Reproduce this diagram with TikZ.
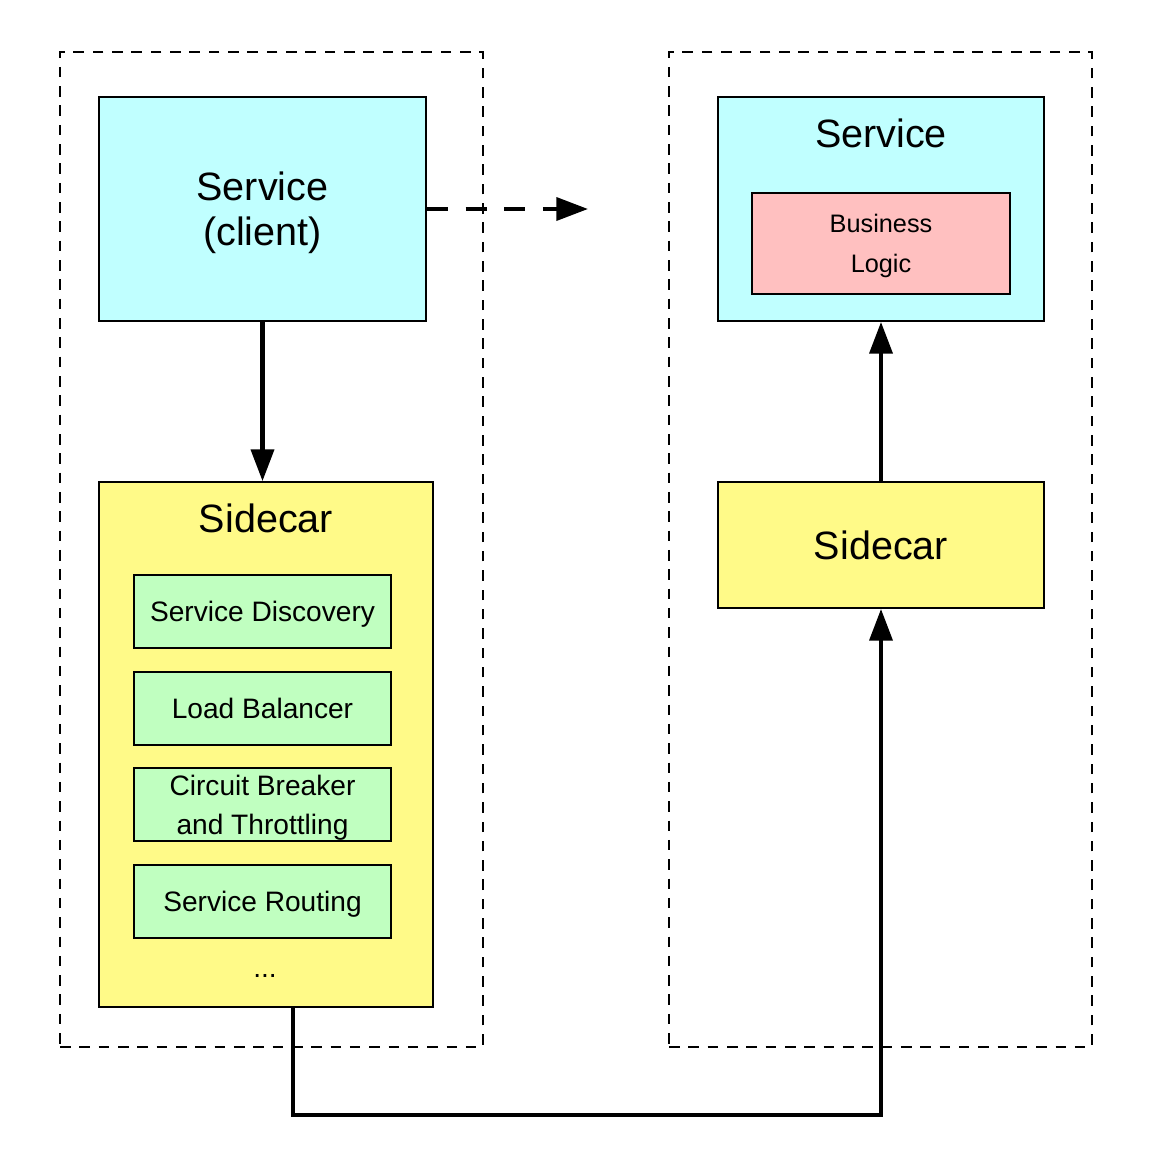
\documentclass[tikz,border=0pt]{standalone}
\usepackage{fontspec}
\setmainfont{Liberation Sans}
\usetikzlibrary{arrows.meta}
\definecolor{svccyan}{RGB}{192,255,255}
\definecolor{caryellow}{RGB}{255,250,136}
\definecolor{featgreen}{RGB}{192,255,192}
\definecolor{logicpink}{RGB}{255,192,192}
\begin{document}
\begin{tikzpicture}[x=0.02cm,y=-0.02cm,
  box/.style={draw,line width=1.1pt,rectangle,inner sep=0pt,align=center,text depth=0pt},
  group/.style={draw,line width=1.1pt,dash pattern=on 6pt off 5pt},
  conn/.style={line width=2.3pt,-{Triangle[length=18pt,width=13pt]}},
  title/.style={font=\fontsize{22.5}{26}\selectfont},
  feat/.style={box,fill=featgreen,minimum width=5.14cm,minimum height=1.46cm,
    font=\fontsize{16}{22}\selectfont}]
\useasboundingbox (0,0) rectangle (1158,1160);
% dashed groups
\node[group,minimum width=8.46cm,minimum height=19.9cm] (lgroup) at (271.5,549.5) {};
\node[group,minimum width=8.46cm,minimum height=19.9cm] (rgroup) at (880.5,549.5) {};
% client side
\node[box,fill=svccyan,minimum width=6.54cm,minimum height=4.48cm,
  font=\fontsize{22.5}{25.5}\selectfont] (client) at (262.5,209) {Service\\(client)};
\node[box,fill=caryellow,minimum width=6.68cm,minimum height=10.5cm] (lcar) at (266,744.5) {};
\node[title] (lcartitle) at (266,518) {Sidecar};
\foreach \txt [count=\i] in {Service Discovery,Load Balancer,
    {Circuit Breaker\\and Throttling},Service Routing}
  \node[feat] (feat\i) at (262.5,611.5+96.7*\i-96.7) {\txt};
\node[font=\fontsize{16}{20}\selectfont] (more) at (265,976) {...};
% server side
\node[box,fill=svccyan,minimum width=6.52cm,minimum height=4.48cm] (server) at (881,209) {};
\node[title] (servertitle) at (881,133) {Service};
\node[box,fill=logicpink,minimum width=5.16cm,minimum height=2.02cm,
  font=\fontsize{14.4}{22.7}\selectfont] (logic) at (881,243.5) {Business\\Logic};
\node[box,fill=caryellow,minimum width=6.52cm,minimum height=2.52cm,title] (rcar) at (881,545) {Sidecar};
% connectors
\coordinate (direct) at (588,209);
\coordinate (low) at (0,1115);
\draw[conn,dash pattern=on 12pt off 10pt] (client.east) -- (direct);
\draw[conn] (client.south) -- (client.south |- lcar.north);
\draw[conn] (rcar.north) -- (server.south);
\draw[conn,line join=miter] ([xshift=0.54cm]lcar.south) -- ([xshift=0.54cm]lcar.south |- low) -| (rcar.south);
\end{tikzpicture}
\end{document}
